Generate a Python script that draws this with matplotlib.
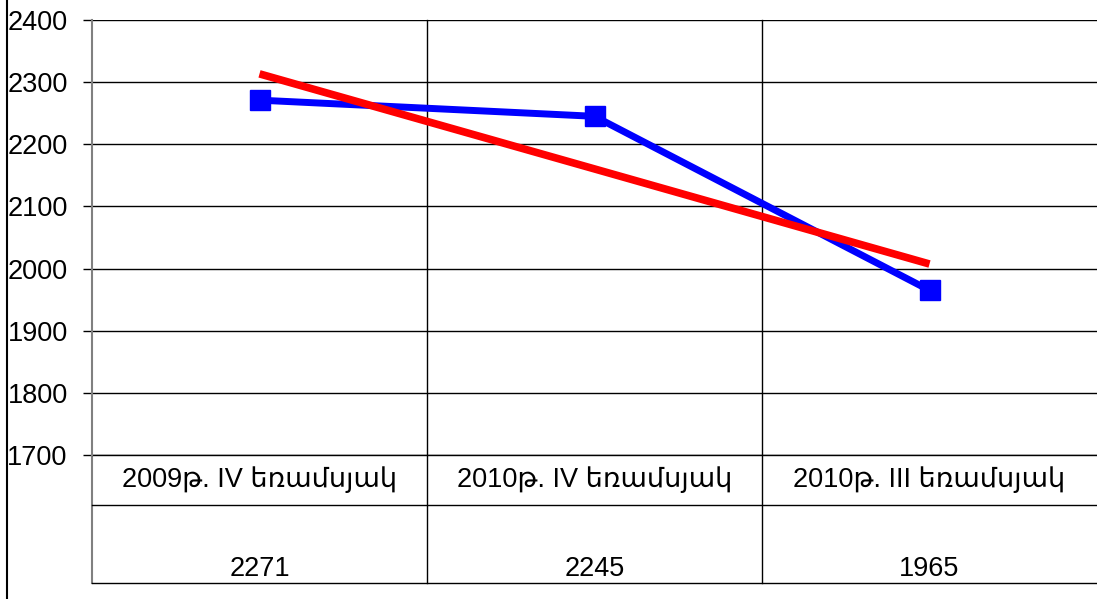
import numpy as np
import matplotlib
matplotlib.use('Agg')
import matplotlib.pyplot as plt
from matplotlib.lines import Line2D

plt.rcParams['font.family'] = ['Liberation Sans', 'DejaVu Sans']

categories = ['2009թ. IV եռամսյակ', '2010թ. IV եռամսյակ', '2010թ. III եռամսյակ']
values = [2271, 2245, 1965]
yticks = [1700, 1800, 1900, 2000, 2100, 2200, 2300, 2400]

W, H = 1097, 599
fig = plt.figure(figsize=(W / 100, H / 100), dpi=100)
# plot area: x 92..1097, y 20..455 (pixels)
ax = fig.add_axes([92 / W, 1 - 455 / H, (W - 92) / W, (455 - 20) / H])

x = np.arange(len(values))
ax.plot(x, values, color='#0000ff', lw=5, marker='s', ms=15,
        solid_joinstyle='miter', zorder=4, clip_on=False)

# linear trend line
k, b = np.polyfit(x, values, 1)
ax.plot(x, k * x + b, color='#ff0000', lw=5.5, zorder=5, solid_capstyle='butt',
        clip_on=False)

ax.set_xlim(-0.5, len(values) - 0.5)
ax.set_ylim(1700, 2400)
ax.set_yticks(yticks)
ax.set_yticklabels([str(t) for t in yticks], fontsize=19.5)
ax.tick_params(axis='y', direction='out', length=6.5, width=1, color='black', pad=11)
ax.set_xticks([])
ax.grid(axis='y', color='black', lw=1)
for s in ['top', 'right', 'bottom']:
    ax.spines[s].set_visible(False)
ax.spines['left'].set_color('#808080')
ax.spines['left'].set_linewidth(1.5)
ax.set_axisbelow(True)

# data table under the chart
row_mid = (455 - 505) / 435
row_bot = (455 - 583) / 435
tr = ax.get_xaxis_transform()
for xv in [0.5, 1.5]:
    ax.add_line(Line2D([xv, xv], [row_bot, 1], transform=tr, color='black',
                       lw=1, clip_on=False))
ax.add_line(Line2D([-0.5, -0.5], [row_bot, 0], transform=tr, color='#808080',
                   lw=1.5, clip_on=False))
for yv in [0, row_mid, row_bot]:
    ax.add_line(Line2D([-0.5, 2.5], [yv, yv], transform=tr, color='black',
                       lw=1, clip_on=False))
for i, (c, v) in enumerate(zip(categories, values)):
    ax.text(i, (455 - 480) / 435, c, transform=tr, ha='center', va='center',
            fontsize=19.5)
    ax.text(i, (455 - 569) / 435, str(v), transform=tr, ha='center',
            va='center', fontsize=19.5)

# outer left border
fig.add_artist(Line2D([7 / W, 7 / W], [0, 1], color='black', lw=1.5))

fig.savefig('out.png', dpi=100)
